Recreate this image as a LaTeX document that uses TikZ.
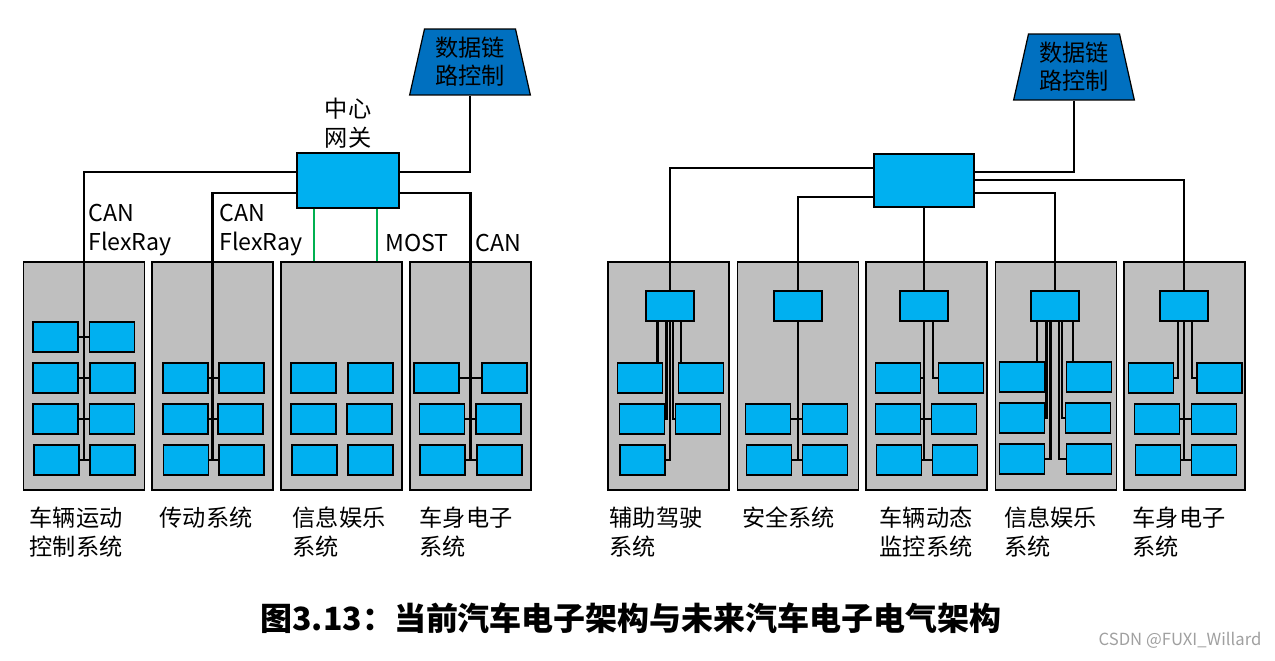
\documentclass[tikz,border=0pt]{standalone}
\usepackage{fontspec}
\setmainfont{Noto Sans CJK SC}
\usetikzlibrary{shapes.geometric, positioning}
\definecolor{ecublue}{RGB}{0, 176, 240}
\definecolor{linkblue}{RGB}{0, 112, 192}
\definecolor{sysgray}{RGB}{191, 191, 191}
\definecolor{mostgreen}{RGB}{0, 176, 80}
\definecolor{markgray}{RGB}{160, 160, 160}

\begin{document}
\begin{tikzpicture}[x=0.02cm, y=-0.02cm,
    sysbox/.style={draw=black, fill=sysgray, line width=0.7pt, minimum width=2.42cm, minimum height=4.56cm, inner sep=0pt},
    ecu/.style={draw=black, fill=ecublue, line width=0.7pt, minimum width=0.9cm, minimum height=0.6cm, inner sep=0pt},
    subgw/.style={ecu, minimum width=0.96cm},
    linkctrl/.style={trapezium, trapezium stretches=true, trapezium left angle=77, trapezium right angle=77,
        draw=black, fill=linkblue, line width=0.7pt, minimum width=2.42cm, minimum height=1.32cm,
        inner sep=0pt, align=center, font=\fontsize{13.2}{15.8}\selectfont},
    bus/.style={black, line width=1.4pt},
    mostline/.style={mostgreen, line width=1.4pt},
    txt/.style={font=\fontsize{13.2}{16.5}\selectfont, align=left, inner sep=0pt}
]
    \useasboundingbox (0,0) rectangle (1275,660);

    % Bus heights
    \coordinate (busA) at (0,172);
    \coordinate (busB) at (0,193);
    \coordinate (busC) at (0,168);
    \coordinate (busD) at (0,197);
    \coordinate (busE) at (0,180);

    % System boxes
    \foreach \n/\x in {d1/84, d2/212.5, d3/341.5, d4/470.5, d5/668.5, d6/798, d7/926.5, d8/1056, d9/1184.5}
        \node[sysbox] (\n) at (\x,376) {};

    % Central gateways and data link control
    \node[ecu, minimum width=2.04cm, minimum height=1.1cm] (gwL) at (348,180.5) {};
    \node[linkctrl] (tzL) at (470,62) {数据链\\路控制};
    \node[txt, align=center, above=0.08cm of gwL] (gwLtxt) {中心\\网关};
    \node[ecu, minimum width=2.0cm, minimum height=1.06cm] (gwR) at (924,180.5) {};
    \node[linkctrl] (tzR) at (1074,67) {数据链\\路控制};

    % Sub gateways
    \foreach \n/\x in {s5/670, s6/798, s7/924, s8/1055, s9/1184}
        \node[subgw] (\n) at (\x,306) {};

    % ECUs, current architecture
    \foreach \n/\x/\y in {e1r1l/55.5/337, e1r1r/112/337, e1r2l/55.5/378, e1r2r/112.5/378,
                          e1r3l/55.5/419, e1r3r/112/419, e1r4l/56.5/460, e1r4r/112.5/460,
                          e2r2l/185.5/378, e2r2r/241.5/378, e2r3l/185.5/419, e2r3r/240.5/419,
                          e2r4l/186/460, e2r4r/241.5/460,
                          e3r2l/313.5/378, e3r2r/370.5/378, e3r3l/313.5/419, e3r3r/369.5/419,
                          e3r4l/314.5/460, e3r4r/370.5/460,
                          e4r2l/436.5/378, e4r2r/504.5/378, e4r3l/442/419, e4r3r/498.5/419,
                          e4r4l/442.5/460, e4r4r/499.5/460}
        \node[ecu] (\n) at (\x,\y) {};

    % ECUs, future architecture
    \foreach \n/\x/\y in {e5r2l/640/378, e5r2r/701/378, e5r3l/642/419, e5r3r/698/419, e5r4l/642.5/460,
                          e6r3l/768/419, e6r3r/825/419, e6r4l/769/460, e6r4r/825/460,
                          e7r2l/898/378, e7r2r/961/378, e7r3l/898/419, e7r3r/954/419,
                          e7r4l/899/460, e7r4r/955/460,
                          e8r2l/1022/377, e8r2r/1089/377, e8r3l/1022/418, e8r3r/1088/418,
                          e8r4l/1022/459, e8r4r/1089/459,
                          e9r2l/1151/378, e9r2r/1219.5/378, e9r3l/1157/419, e9r3r/1214/419,
                          e9r4l/1158/460, e9r4r/1214/460}
        \node[ecu] (\n) at (\x,\y) {};

    % Links, current architecture
    \draw[bus] (tzL.south) |- (gwL.east |- busA);
    \draw[bus] (gwL.west |- busA) -| (d1.center |- e1r4l.east);
    \draw[bus] (gwL.west |- busB) -| (d2.center |- e2r4l.east);
    \draw[bus] (gwL.east |- busB) -| (d4.center |- e4r4l.east);
    \draw[mostline] ([xshift=-0.68cm]gwL.south) -- ([xshift=-0.68cm]gwL.south |- d3.north);
    \draw[mostline] ([xshift=0.58cm]gwL.south) -- ([xshift=0.58cm]gwL.south |- d3.north);
    \foreach \r in {1, 2, 3, 4}
        \draw[bus] (e1r\r l.east) -- (e1r\r r.west);
    \foreach \b in {2, 4}
        \foreach \r in {2, 3, 4}
            \draw[bus] (e\b r\r l.east) -- (e\b r\r r.west);

    % Links, future architecture
    \draw[bus] (tzR.south) |- (gwR.east |- busA);
    \draw[bus] (gwR.west |- busC) -| (s5.north);
    \draw[bus] (gwR.west |- busD) -| (s6.north);
    \draw[bus] (gwR.south) -- (s7.north);
    \draw[bus] (gwR.east |- busB) -| (s8.north);
    \draw[bus] (gwR.east |- busE) -| (s9.north);

    % Assisted driving
    \draw[bus] ([xshift=-0.25cm]s5.south) -- ([xshift=-0.25cm]s5.south |- e5r2l.north);
    \draw[bus] ([xshift=0.22cm]s5.south) -- ([xshift=0.22cm]s5.south |- e5r2r.north);
    \draw[bus] ([xshift=-0.07cm]s5.south) |- (e5r3l.east);
    \draw[bus] ([xshift=0.06cm]s5.south) |- (e5r3r.west);
    \draw[bus] (s5.south) |- (e5r4l.east);

    % Safety
    \draw[bus] (s6.south) -- (s6.south |- e6r4l.east);
    \draw[bus] (e6r3l.east) -- (e6r3r.west);
    \draw[bus] (e6r4l.east) -- (e6r4r.west);

    % Vehicle dynamics
    \draw[bus] (s7.south) -- (s7.south |- e7r4l.east);
    \draw[bus] ([xshift=0.18cm]s7.south) |- (e7r2r.west);
    \draw[bus] (e7r2l.east) -- (s7.south |- e7r2l.east);
    \draw[bus] (e7r3l.east) -- (e7r3r.west);
    \draw[bus] (e7r4l.east) -- (e7r4r.west);

    % Infotainment
    \draw[bus] ([xshift=-0.36cm]s8.south) -- ([xshift=-0.36cm]s8.south |- e8r2l.north);
    \draw[bus] ([xshift=0.36cm]s8.south) -- ([xshift=0.36cm]s8.south |- e8r2r.north);
    \draw[bus] ([xshift=-0.17cm]s8.south) |- (e8r3l.east);
    \draw[bus] ([xshift=-0.09cm]s8.south) |- (e8r4l.east);
    \draw[bus] ([xshift=0.08cm]s8.south) |- (e8r4r.west);
    \draw[bus] ([xshift=0.14cm]s8.south) |- (e8r3r.west);

    % Body electronics
    \draw[bus] (s9.south) -- (s9.south |- e9r4l.east);
    \draw[bus] ([xshift=-0.12cm]s9.south) |- (e9r2l.east);
    \draw[bus] ([xshift=0.16cm]s9.south) |- (e9r2r.west);
    \draw[bus] (e9r3l.east) -- (e9r3r.west);
    \draw[bus] (e9r4l.east) -- (e9r4r.west);

    % Bus names
    \node[txt, anchor=north west] (can1) at (88,204) {CAN\\FlexRay};
    \node[txt, anchor=north west] (can2) at (219,204) {CAN\\FlexRay};
    \node[txt, anchor=north west] (most) at (385,234) {MOST};
    \node[txt, anchor=north west] (can3) at (475,234) {CAN};

    % System names
    \foreach \d/\s/\t in {d1/0.13/{车辆运动\\控制系统}, d2/0.16/{传动系统}, d3/0.24/{信息娱乐\\系统},
                          d4/0.2/{车身电子\\系统}, d5/0.04/{辅助驾驶\\系统}, d6/0.1/{安全系统},
                          d7/0.28/{车辆动态\\监控系统}, d8/0.18/{信息娱乐\\系统}, d9/0.18/{车身电子\\系统}}
        \node[txt, anchor=north west] (n\d) at ([xshift=\s cm, yshift=-0.32cm]\d.south west) {\t};

    % Caption
    \node[font=\fontsize{18.2}{21}\selectfont\bfseries] (title) at (631,618)
        {图3.13：当前汽车电子架构与未来汽车电子电气架构};
    \node[font=\fontsize{9.5}{11}\selectfont, text=markgray] (mark) at (1180,640) {CSDN @FUXI\_Willard};
\end{tikzpicture}
\end{document}
